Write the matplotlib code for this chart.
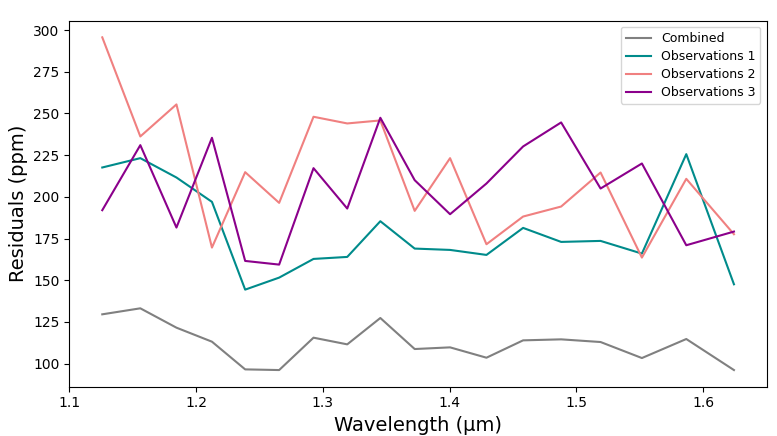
import numpy as np
import matplotlib
matplotlib.use('Agg')
import matplotlib.pyplot as plt

# longitudini d'onda (micron)
wl = [1.126, 1.156, 1.1845, 1.2125, 1.2387, 1.2655, 1.2926, 1.3192, 1.3453, 1.3724,
      1.4003, 1.429, 1.4579, 1.4879, 1.519, 1.5516, 1.5866, 1.6242]

combined = [129.6, 133.2, 121.6, 113.2, 96.6, 96.2, 115.6, 111.6, 127.4, 108.8,
            109.8, 103.6, 114.0, 114.6, 113.0, 103.4, 114.8, 96.2]
obs1 = [217.6, 223.2, 211.6, 197.0, 144.4, 151.6, 162.8, 164.0, 185.4, 169.0,
        168.2, 165.2, 181.4, 173.0, 173.6, 166.0, 225.6, 147.6]
obs2 = [295.6, 236.2, 255.4, 169.6, 214.8, 196.4, 248.0, 244.0, 245.8, 191.6,
        223.2, 171.6, 188.2, 194.2, 214.6, 163.6, 210.8, 177.6]
obs3 = [192.0, 231.0, 181.6, 235.4, 161.6, 159.4, 217.2, 193.0, 247.4, 210.0,
        189.6, 208.0, 230.2, 244.6, 205.0, 220.0, 171.0, 179.2]

fig = plt.figure(figsize=(7.77, 4.36), dpi=100)
ax = fig.add_axes([0.0892, 0.1131, 0.8975, 0.8394])

ax.plot(wl, combined, color='gray', lw=1.5, label='Combined')
ax.plot(wl, obs1, color='darkcyan', lw=1.5, label='Observations 1')
ax.plot(wl, obs2, color='lightcoral', lw=1.5, label='Observations 2')
ax.plot(wl, obs3, color='darkmagenta', lw=1.5, label='Observations 3')

ax.set_xlim(1.1, 1.65)
ax.set_xlabel('Wavelength (µm)', fontsize=14)
ax.set_ylabel('Residuals (ppm)', fontsize=14)
ax.tick_params(labelsize=10)
ax.legend(loc='upper right', fontsize=9, labelspacing=0.4)

fig.savefig('out.png', dpi=100)
